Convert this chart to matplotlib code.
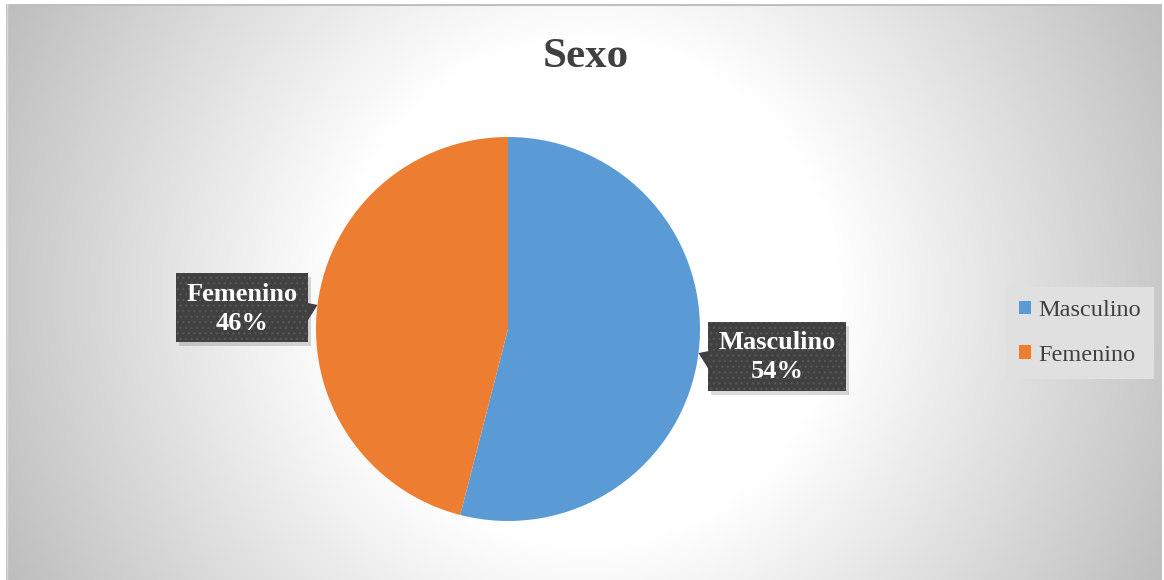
import numpy as np
import matplotlib.pyplot as plt
from matplotlib.patches import Polygon, Rectangle, Patch

labels = ["Masculino", "Femenino"]
values = [54, 46]
colors = ["#5B9BD5", "#ED7D31"]
title = "Sexo"

W, H = 1164, 580
fig = plt.figure(figsize=(W / 100, H / 100), dpi=100)
fig.patch.set_facecolor("white")

# radial gradient background of the chart area
bg = fig.add_axes([6 / W, 0, 1 - 8 / W, 1 - 4 / H])
bg.set_axis_off()
yy, xx = np.mgrid[0:576, 0:1156]
r = np.hypot(xx - 580, yy - 288)
t = np.clip((r - 250) / 400, 0, 1)
shade = 1 - 0.26 * t
bg.imshow(np.dstack([shade, shade, shade]), aspect="auto", extent=(0, 1, 0, 1))
bg.plot([0, 1], [0.998, 0.998], color="#BFBFBF", lw=1.5, transform=bg.transAxes)
bg.plot([0.0005, 0.0005], [0, 1], color="#D9D9D9", lw=1, transform=bg.transAxes)

# pie axes: centre (508, 329) px, radius 192 px
R = 192
cx, cy = 508, 329
ax = fig.add_axes([(cx - R) / W, (H - cy - R) / H, 2 * R / W, 2 * R / H])
wedges, _ = ax.pie(values, colors=colors, startangle=90, counterclock=False,
                   wedgeprops=dict(linewidth=0))
ax.set_xlim(-1, 1)
ax.set_ylim(-1, 1)
ax.set_aspect("auto")

fig.text(586 / W, 1 - 57 / H, title, ha="center", va="center", fontsize=31,
         fontweight="bold", family="Liberation Serif", color="#404040")

# callout labels
fig.canvas.draw()
renderer = fig.canvas.get_renderer()
px = 1 / R  # one pixel in pie data units
for w, name, v in zip(wedges, labels, values):
    ang = np.deg2rad((w.theta1 + w.theta2) / 2)
    axp, ayp = np.cos(ang), np.sin(ang)
    side = 1 if axp >= 0 else -1
    txt = ax.text(0, 0, f"{name}\n{v}%", ha="center", va="center", fontsize=19,
                  fontweight="bold", family="Liberation Serif", color="white",
                  linespacing=1.3, zorder=6)
    bb = txt.get_window_extent(renderer)
    bw = (bb.width + 20) * px
    bh = 69 * px
    gap = 10 * px
    x0 = axp + gap if side > 0 else axp - gap - bw
    yc = ayp - 3 * px
    y0 = yc - bh / 2
    txt.set_position((x0 + bw / 2, yc - 1 * px))
    # shadow
    ax.add_patch(Rectangle((x0 + 3 * px, y0 - 4 * px), bw, bh, facecolor="black",
                           alpha=0.15, lw=0, clip_on=False, zorder=4))
    ax.add_patch(Rectangle((x0, y0), bw, bh, facecolor="#404040", edgecolor="#555555",
                           hatch="...", lw=0, clip_on=False, zorder=5))
    ex = x0 if side > 0 else x0 + bw
    tri = [(ex, ayp + 2 * px), (axp, ayp), (ex, ayp - 16 * px)]
    ax.add_patch(Polygon(tri, closed=True, facecolor="#404040", lw=0,
                         clip_on=False, zorder=5))

handles = [Patch(facecolor=c, edgecolor="none") for c in colors]
leg = fig.legend(handles, labels, loc="center", bbox_to_anchor=(1080 / W, 1 - 333 / H),
                 frameon=True, fancybox=False, framealpha=1, edgecolor="none",
                 facecolor="#E0E0E0", handlelength=0.46, handleheight=0.46,
                 handletextpad=0.3, labelspacing=0.95, borderpad=0.55,
                 prop=dict(family="Liberation Serif", size=17.5))
for tx in leg.get_texts():
    tx.set_color("#404040")

fig.savefig("out.png", dpi=100)
